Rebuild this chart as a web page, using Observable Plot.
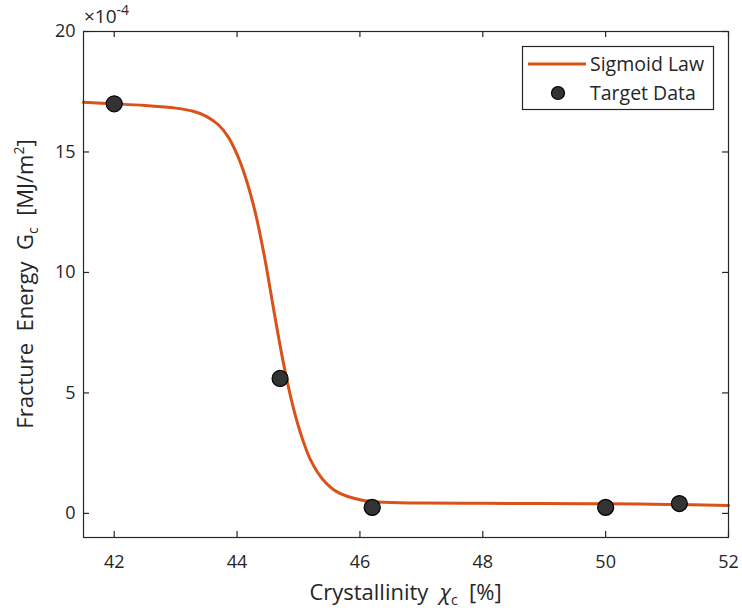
<!DOCTYPE html>
<html><head><meta charset="utf-8">
<script src="https://cdn.jsdelivr.net/npm/d3@7"></script>
<script src="https://cdn.jsdelivr.net/npm/@observablehq/plot@0.6"></script>
<style>body{margin:0;background:#fff;} #chart{width:742px;height:610px;}</style>
</head><body><div id="chart"></div>
<script>
// Sigmoid-law fitted curve (x: crystallinity %, y: Gc ×1e-4 MJ/m²)
const fitX = [41.5, 42.0, 42.5, 43.0, 43.3, 43.5, 43.7, 43.85, 44.0, 44.15, 44.3, 44.45, 44.6, 44.75, 44.9, 45.05, 45.2, 45.4, 45.65, 46.0, 46.3, 47.0, 48.0, 49.0, 50.0, 51.0, 52.0];
const fitY = [17.06, 17.0, 16.93, 16.82, 16.68, 16.48, 16.12, 15.65, 14.9, 13.85, 12.45, 10.6, 8.4, 6.3, 4.55, 3.2, 2.2, 1.4, 0.86, 0.57, 0.47, 0.43, 0.42, 0.41, 0.40, 0.37, 0.33];
// Target data
const dataX = [42.0, 44.7, 46.2, 50.0, 51.2];
const dataY = [17.0, 5.6, 0.25, 0.25, 0.41];
// Ticks
const xTicks = [42, 44, 46, 48, 50, 52];
const yTicks = [0, 5, 10, 15, 20];
const seriesNames = ["Sigmoid Law", "Target Data"];

const fit = fitX.map((x, i) => ({x, y: fitY[i]}));
const pts = dataX.map((x, i) => ({x, y: dataY[i]}));

const W = 742, H = 610, mL = 83, mR = 14, mT = 31, mB = 73;
const innerW = W - mL - mR, innerH = H - mT - mB;
const tickLen = 6;
const ink = "#262626";
const orange = "#D95319";
const font = "'Open Sans', sans-serif";
const sp = "\u00a0\u00a0";

const svg = Plot.plot({
  width: W, height: H,
  marginLeft: mL, marginRight: mR, marginTop: mT, marginBottom: mB,
  style: {fontFamily: font, fontSize: "18px", color: ink, background: "#fff", overflow: "visible"},
  x: {domain: [41.5, 52]},
  y: {domain: [-1, 20]},
  marks: [
    Plot.line(fit, {x: "x", y: "y", stroke: orange, strokeWidth: 3, curve: "catmull-rom"}),
    Plot.dot(pts, {x: "x", y: "y", r: 8, fill: "#333333", stroke: "#000", strokeWidth: 1.2}),
    Plot.frame({stroke: ink, strokeWidth: 1.2}),
    Plot.tickX(xTicks, {x: d => d, insetTop: innerH - tickLen, stroke: ink, strokeWidth: 1.2}),
    Plot.tickX(xTicks, {x: d => d, insetBottom: innerH - tickLen, stroke: ink, strokeWidth: 1.2}),
    Plot.tickY(yTicks, {y: d => d, insetRight: innerW - tickLen, stroke: ink, strokeWidth: 1.2}),
    Plot.tickY(yTicks, {y: d => d, insetLeft: innerW - tickLen, stroke: ink, strokeWidth: 1.2}),
    Plot.axisX({ticks: xTicks, tickSize: 0, tickPadding: 18, label: null, fontSize: 18, fill: ink}),
    Plot.axisY({ticks: yTicks, tickSize: 0, tickPadding: 8, label: null, fontSize: 18, fill: ink})
  ]
});

const s = d3.select(svg);
const txt = (g) => g.attr("font-family", font).attr("fill", ink).attr("text-anchor", "start");

// ×10^-4 exponent label
const ex = s.append("text").call(txt).attr("x", 84).attr("y", 23).style("font-size", "19px");
ex.append("tspan").text("×10");
ex.append("tspan").attr("dy", -8).style("font-size", "14px").text("-4");

// X axis label
const xl = s.append("text").call(txt).attr("x", mL + innerW / 2).attr("y", 600)
  .attr("text-anchor", "middle").style("font-size", "22px");
xl.append("tspan").text("Crystallinity" + sp);
xl.append("tspan").attr("font-style", "italic").text("χ");
xl.append("tspan").attr("dy", 5).style("font-size", "14px").text("c");
xl.append("tspan").attr("dy", -5).text(sp + "[%]");

// Y axis label
const yl = s.append("text").call(txt)
  .attr("transform", `translate(33,${mT + innerH / 2}) rotate(-90)`)
  .attr("text-anchor", "middle").style("font-size", "22px");
yl.append("tspan").text("Fracture" + sp + "Energy" + sp + "G");
yl.append("tspan").attr("dy", 5).style("font-size", "14px").text("c");
yl.append("tspan").attr("dy", -5).text(sp + "[MJ/m");
yl.append("tspan").attr("dy", -9).style("font-size", "14px").text("2");
yl.append("tspan").attr("dy", 9).text("]");

// Legend
const lg = s.append("g");
lg.append("rect").attr("x", 522.5).attr("y", 46.5).attr("width", 191).attr("height", 63)
  .attr("fill", "#fff").attr("stroke", ink).attr("stroke-width", 1.2);
lg.append("line").attr("x1", 528).attr("x2", 586).attr("y1", 64).attr("y2", 64)
  .attr("stroke", orange).attr("stroke-width", 3);
lg.append("circle").attr("cx", 558).attr("cy", 93).attr("r", 6.5)
  .attr("fill", "#333333").attr("stroke", "#000").attr("stroke-width", 1.2);
lg.append("text").call(txt).attr("x", 590).attr("y", 64).attr("dy", "0.36em").style("font-size", "19.5px").text(seriesNames[0]);
lg.append("text").call(txt).attr("x", 590).attr("y", 93).attr("dy", "0.36em").style("font-size", "19.5px").text(seriesNames[1]);

document.getElementById("chart").appendChild(svg);
</script>
</body></html>
